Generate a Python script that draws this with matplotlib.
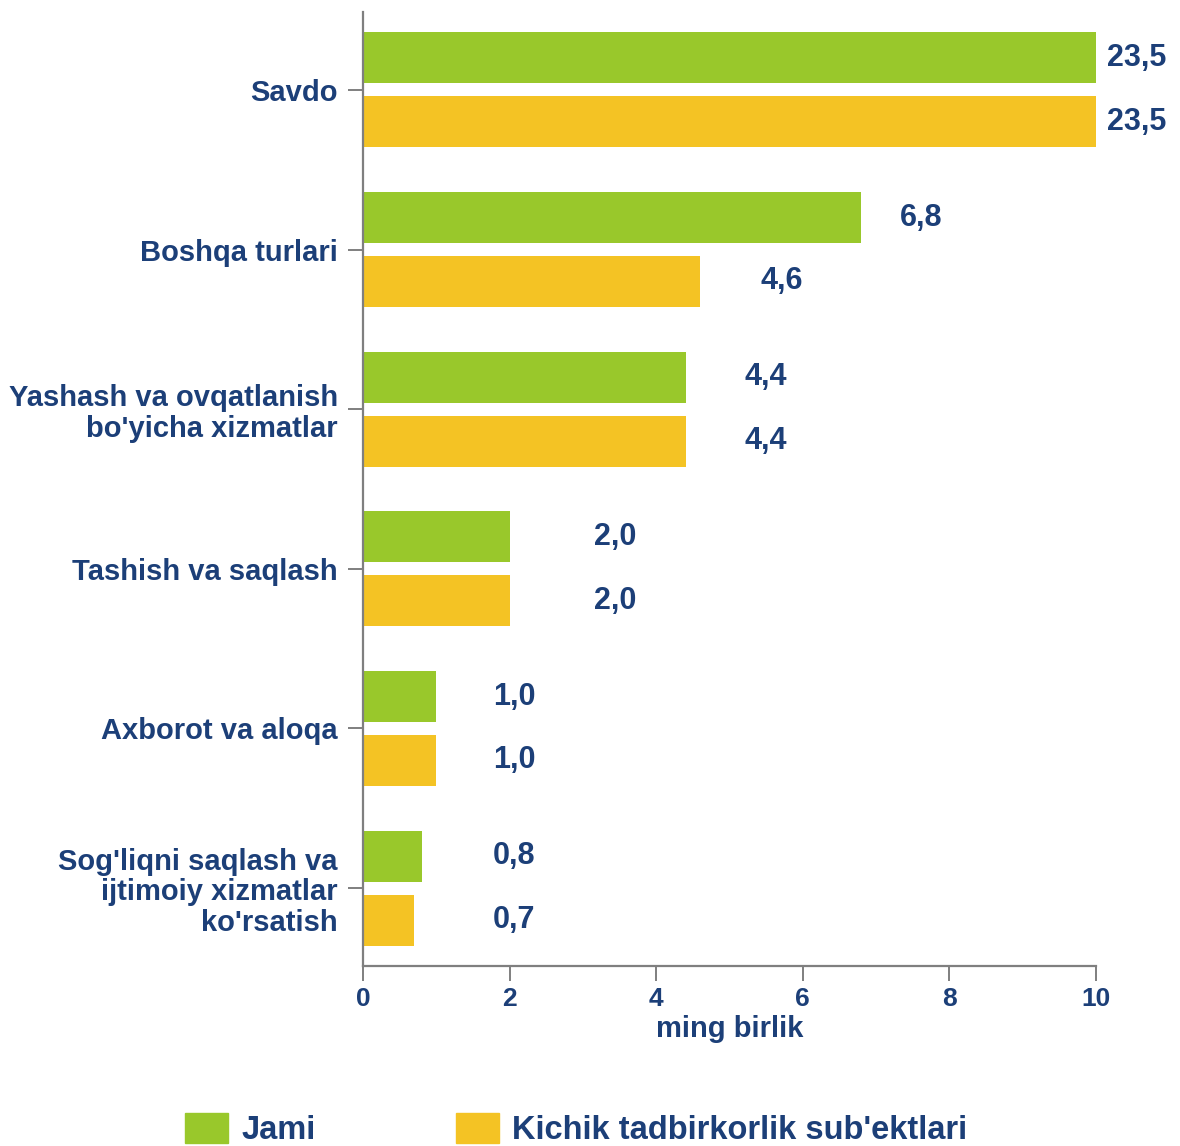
import matplotlib.pyplot as plt
from matplotlib.patches import Patch

# ---------- data ----------
categories = ["Savdo", "Boshqa turlari", "Yashash va ovqatlanish\nbo'yicha xizmatlar",
              "Tashish va saqlash", "Axborot va aloqa",
              "Sog'liqni saqlash va\nijtimoiy xizmatlar\nko'rsatish"]
jami = [23.5, 6.8, 4.4, 2.0, 1.0, 0.8]
kichik = [23.5, 4.6, 4.4, 2.0, 1.0, 0.7]
series_names = ["Jami", "Kichik tadbirkorlik sub'ektlari"]
x_ticks = [0, 2, 4, 6, 8, 10]
x_label = "ming birlik"

# label x positions (data units), as placed in the original
jami_lbl_x = [10.15, 7.33, 5.21, 3.15, 1.77, 1.77]
kichik_lbl_x = [10.15, 5.42, 5.21, 3.15, 1.77, 1.77]

green = '#99C82B'
yellow = '#F4C324'
txt = '#1C3F78'
axcol = '#7F7F7F'
font = ['Liberation Sans', 'DejaVu Sans']

fig = plt.figure(figsize=(11.8, 11.46), dpi=100)
ax = fig.add_axes([363/1180, 1 - 966/1146, (1096-363)/1180, (966-12)/1146])

y = list(range(len(categories)))
h = 0.32
off = 0.2
ax.barh([v - off for v in y], jami, height=h, color=green)
ax.barh([v + off for v in y], kichik, height=h, color=yellow)

for i in y:
    ax.text(jami_lbl_x[i], i - off, f"{jami[i]:.1f}".replace('.', ','),
            va='center', ha='left', fontsize=22, fontweight='bold',
            color=txt, family=font)
    ax.text(kichik_lbl_x[i], i + off, f"{kichik[i]:.1f}".replace('.', ','),
            va='center', ha='left', fontsize=22, fontweight='bold',
            color=txt, family=font)

ax.set_xlim(0, 10)
ax.set_ylim(5.4875, -0.4875)
ax.set_yticks(y)
ax.set_yticklabels(categories, fontsize=21, color=txt, family=font,
                   fontweight='bold', linespacing=1.12)
ax.set_xticks(x_ticks)
ax.set_xticklabels([str(t) for t in x_ticks], fontsize=19, color=txt,
                   family=font, fontweight='bold')
ax.set_xlabel(x_label, fontsize=21, color=txt, family=font,
              fontweight='bold', labelpad=3)

for s in ['top', 'right']:
    ax.spines[s].set_visible(False)
for s in ['left', 'bottom']:
    ax.spines[s].set_color(axcol)
    ax.spines[s].set_linewidth(1.6)
ax.tick_params(axis='y', length=11, width=1.4, color=axcol, pad=7)
ax.tick_params(axis='x', length=11, width=1.4, color=axcol, pad=4)

handles = [Patch(color=green), Patch(color=yellow)]
fig.legend(handles, series_names, loc='upper left',
           bbox_to_anchor=(169/1180, 1 - 1097/1146), ncol=2, frameon=False,
           prop={'family': font, 'size': 23.5, 'weight': 'bold'},
           labelcolor=txt, handlelength=1.32, handleheight=1.0,
           handletextpad=0.4, columnspacing=4.3, borderpad=0)

fig.savefig('out.png', dpi=100)
